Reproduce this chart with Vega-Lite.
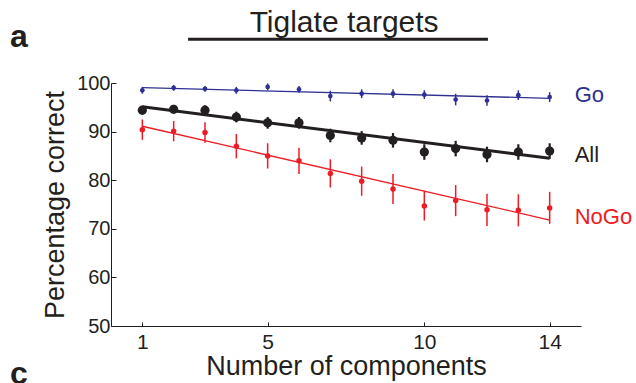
{
  "$schema": "https://vega.github.io/schema/vega-lite/v6.json",
  "autosize": "none",
  "width": 470,
  "height": 243,
  "padding": {"left": 111, "top": 83, "right": 55, "bottom": 57},
  "background": "white",
  "config": {
    "view": {"stroke": null},
    "font": "Liberation Sans",
    "axis": {
      "grid": false,
      "domainColor": "#231f20",
      "domainWidth": 1,
      "tickColor": "#231f20",
      "tickWidth": 1,
      "labelColor": "#231f20",
      "titleColor": "#231f20",
      "labelFont": "Liberation Sans",
      "titleFont": "Liberation Sans",
      "titleFontWeight": "normal"
    }
  },
  "datasets": {
    "pts": [
      {"n": 1, "series": "Go", "pct": 98.5, "lo": 97.8, "hi": 99.2},
      {"n": 2, "series": "Go", "pct": 99.0, "lo": 98.4, "hi": 99.6},
      {"n": 3, "series": "Go", "pct": 98.8, "lo": 98.2, "hi": 99.4},
      {"n": 4, "series": "Go", "pct": 98.5, "lo": 97.8, "hi": 99.2},
      {"n": 5, "series": "Go", "pct": 99.2, "lo": 98.5, "hi": 99.9},
      {"n": 6, "series": "Go", "pct": 98.7, "lo": 98.0, "hi": 99.4},
      {"n": 7, "series": "Go", "pct": 97.3, "lo": 96.2, "hi": 98.4},
      {"n": 8, "series": "Go", "pct": 97.8, "lo": 96.9, "hi": 98.7},
      {"n": 9, "series": "Go", "pct": 97.8, "lo": 96.9, "hi": 98.7},
      {"n": 10, "series": "Go", "pct": 97.6, "lo": 96.7, "hi": 98.5},
      {"n": 11, "series": "Go", "pct": 96.6, "lo": 95.4, "hi": 97.8},
      {"n": 12, "series": "Go", "pct": 96.4, "lo": 95.3, "hi": 97.5},
      {"n": 13, "series": "Go", "pct": 97.5, "lo": 96.5, "hi": 98.5},
      {"n": 14, "series": "Go", "pct": 97.1, "lo": 96.1, "hi": 98.1},
      {"n": 1, "series": "All", "pct": 94.4, "lo": 93.5, "hi": 95.3},
      {"n": 2, "series": "All", "pct": 94.6, "lo": 93.7, "hi": 95.5},
      {"n": 3, "series": "All", "pct": 94.4, "lo": 93.4, "hi": 95.4},
      {"n": 4, "series": "All", "pct": 93.0, "lo": 91.9, "hi": 94.1},
      {"n": 5, "series": "All", "pct": 91.8, "lo": 90.6, "hi": 93.0},
      {"n": 6, "series": "All", "pct": 91.8, "lo": 90.6, "hi": 93.0},
      {"n": 7, "series": "All", "pct": 89.2, "lo": 87.8, "hi": 90.6},
      {"n": 8, "series": "All", "pct": 88.7, "lo": 87.3, "hi": 90.1},
      {"n": 9, "series": "All", "pct": 88.2, "lo": 86.7, "hi": 89.7},
      {"n": 10, "series": "All", "pct": 85.8, "lo": 84.2, "hi": 87.4},
      {"n": 11, "series": "All", "pct": 86.5, "lo": 84.9, "hi": 88.1},
      {"n": 12, "series": "All", "pct": 85.3, "lo": 83.7, "hi": 86.9},
      {"n": 13, "series": "All", "pct": 85.8, "lo": 84.2, "hi": 87.4},
      {"n": 14, "series": "All", "pct": 86.0, "lo": 84.4, "hi": 87.6},
      {"n": 1, "series": "NoGo", "pct": 90.4, "lo": 88.3, "hi": 92.5},
      {"n": 2, "series": "NoGo", "pct": 90.1, "lo": 88.0, "hi": 92.2},
      {"n": 3, "series": "NoGo", "pct": 89.8, "lo": 87.7, "hi": 91.9},
      {"n": 4, "series": "NoGo", "pct": 87.0, "lo": 84.5, "hi": 89.5},
      {"n": 5, "series": "NoGo", "pct": 85.0, "lo": 82.4, "hi": 87.6},
      {"n": 6, "series": "NoGo", "pct": 84.0, "lo": 81.3, "hi": 86.7},
      {"n": 7, "series": "NoGo", "pct": 81.4, "lo": 78.5, "hi": 84.3},
      {"n": 8, "series": "NoGo", "pct": 79.8, "lo": 76.8, "hi": 82.8},
      {"n": 9, "series": "NoGo", "pct": 78.2, "lo": 75.1, "hi": 81.3},
      {"n": 10, "series": "NoGo", "pct": 74.7, "lo": 71.7, "hi": 77.8},
      {"n": 11, "series": "NoGo", "pct": 75.8, "lo": 72.6, "hi": 79.0},
      {"n": 12, "series": "NoGo", "pct": 73.9, "lo": 70.6, "hi": 77.2},
      {"n": 13, "series": "NoGo", "pct": 73.8, "lo": 70.5, "hi": 77.1},
      {"n": 14, "series": "NoGo", "pct": 74.3, "lo": 71.0, "hi": 77.6}
    ],
    "fit": [
      {"n": 1, "series": "Go", "fit": 99.05},
      {"n": 14, "series": "Go", "fit": 96.85},
      {"n": 1, "series": "All", "fit": 95.1},
      {"n": 14, "series": "All", "fit": 84.5},
      {"n": 1, "series": "NoGo", "fit": 91.1},
      {"n": 14, "series": "NoGo", "fit": 71.8}
    ]
  },
  "layer": [
    {
      "data": {"name": "pts"},
      "transform": [{"filter": "datum.series == 'Go'"}],
      "mark": {"type": "rule", "color": "#2e3192", "strokeWidth": 1.5},
      "encoding": {
        "x": {"field": "n", "type": "quantitative", "scale": {"domain": [0, 15], "nice": false, "zero": false},
          "axis": {"values": [1, 5, 10, 14], "title": "Number of components", "tickSize": -4, "labelPadding": 9, "labelFontSize": 21, "titleFontSize": 27, "titleBaseline": "alphabetic", "titleY": 48.5}},
        "y": {"field": "lo", "type": "quantitative", "scale": {"domain": [50, 100], "nice": false, "zero": false},
          "axis": {"values": [50, 60, 70, 80, 90, 100], "title": "Percentage correct", "tickSize": -5, "labelPadding": 6, "labelFontSize": 20, "titleFontSize": 27, "titleBaseline": "alphabetic", "titleX": -48}},
        "y2": {"field": "hi"}
      }
    },
    {
      "data": {"name": "fit"},
      "transform": [{"filter": "datum.series == 'Go'"}],
      "mark": {"type": "line", "color": "#2e3192", "strokeWidth": 1.3},
      "encoding": {
        "x": {"field": "n", "type": "quantitative"},
        "y": {"field": "fit", "type": "quantitative"}
      }
    },
    {
      "data": {"name": "pts"},
      "transform": [{"filter": "datum.series == 'Go'"}],
      "mark": {"type": "circle", "opacity": 1, "color": "#2e3192", "size": 22},
      "encoding": {
        "x": {"field": "n", "type": "quantitative"},
        "y": {"field": "pct", "type": "quantitative"}
      }
    },
    {
      "data": {"name": "pts"},
      "transform": [{"filter": "datum.series == 'NoGo'"}],
      "mark": {"type": "rule", "color": "#ed1c24", "strokeWidth": 1.5},
      "encoding": {
        "x": {"field": "n", "type": "quantitative"},
        "y": {"field": "lo", "type": "quantitative"},
        "y2": {"field": "hi"}
      }
    },
    {
      "data": {"name": "fit"},
      "transform": [{"filter": "datum.series == 'NoGo'"}],
      "mark": {"type": "line", "color": "#ed1c24", "strokeWidth": 1.3},
      "encoding": {
        "x": {"field": "n", "type": "quantitative"},
        "y": {"field": "fit", "type": "quantitative"}
      }
    },
    {
      "data": {"name": "pts"},
      "transform": [{"filter": "datum.series == 'NoGo'"}],
      "mark": {"type": "circle", "opacity": 1, "color": "#ed1c24", "size": 30},
      "encoding": {
        "x": {"field": "n", "type": "quantitative"},
        "y": {"field": "pct", "type": "quantitative"}
      }
    },
    {
      "data": {"name": "pts"},
      "transform": [{"filter": "datum.series == 'All'"}],
      "mark": {"type": "rule", "color": "#231f20", "strokeWidth": 2.2},
      "encoding": {
        "x": {"field": "n", "type": "quantitative"},
        "y": {"field": "lo", "type": "quantitative"},
        "y2": {"field": "hi"}
      }
    },
    {
      "data": {"name": "fit"},
      "transform": [{"filter": "datum.series == 'All'"}],
      "mark": {"type": "line", "color": "#231f20", "strokeWidth": 3},
      "encoding": {
        "x": {"field": "n", "type": "quantitative"},
        "y": {"field": "fit", "type": "quantitative"}
      }
    },
    {
      "data": {"name": "pts"},
      "transform": [{"filter": "datum.series == 'All'"}],
      "mark": {"type": "circle", "opacity": 1, "color": "#231f20", "size": 85},
      "encoding": {
        "x": {"field": "n", "type": "quantitative"},
        "y": {"field": "pct", "type": "quantitative"}
      }
    },
    {
      "data": {"name": "fit"},
      "transform": [{"filter": "datum.n == 14"}],
      "mark": {"type": "text", "align": "left", "baseline": "middle", "dx": 25, "dy": -3, "fontSize": 22, "font": "Liberation Sans"},
      "encoding": {
        "x": {"field": "n", "type": "quantitative"},
        "y": {"field": "fit", "type": "quantitative"},
        "text": {"field": "series"},
        "color": {"field": "series", "type": "nominal", "scale": {"domain": ["Go", "All", "NoGo"], "range": ["#2e3192", "#231f20", "#ed1c24"]}, "legend": null}
      }
    },
    {
      "data": {"values": [{"label": "Tiglate targets"}]},
      "mark": {"type": "text", "align": "center", "baseline": "alphabetic", "fontSize": 30, "font": "Liberation Sans", "color": "#231f20"},
      "encoding": {
        "x": {"datum": 7.44},
        "y": {"datum": 110.5},
        "text": {"field": "label"}
      }
    },
    {
      "data": {"values": [{}]},
      "mark": {"type": "rule", "strokeWidth": 3, "color": "#231f20"},
      "encoding": {
        "x": {"datum": 2.46},
        "x2": {"datum": 12.03},
        "y": {"datum": 109.0}
      }
    },
    {
      "data": {"values": [{"label": "a"}]},
      "mark": {"type": "text", "align": "left", "baseline": "alphabetic", "fontSize": 32, "fontWeight": "bold", "font": "Liberation Sans", "color": "#231f20"},
      "encoding": {
        "x": {"datum": -3.22},
        "y": {"datum": 107.35},
        "text": {"field": "label"}
      }
    },
    {
      "data": {"values": [{"label": "c"}]},
      "mark": {"type": "text", "align": "left", "baseline": "alphabetic", "fontSize": 32, "fontWeight": "bold", "font": "Liberation Sans", "color": "#231f20"},
      "encoding": {
        "x": {"datum": -3.22},
        "y": {"datum": 38.0},
        "text": {"field": "label"}
      }
    }
  ]
}
